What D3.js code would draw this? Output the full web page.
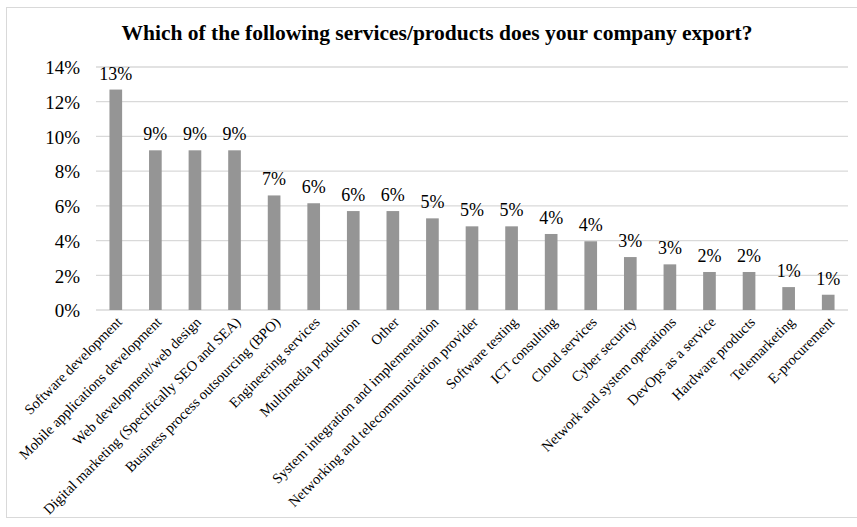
<!DOCTYPE html>
<html>
<head>
<meta charset="utf-8">
<script src="https://cdn.jsdelivr.net/npm/d3@7"></script>
<style>
  body { margin: 0; background: #fff; }
  svg text { font-family: "Liberation Serif", "Times New Roman", serif; fill: #000; }
</style>
</head>
<body>
<div class="chart"></div>
<script>
'use strict';

const categories = [
  "Software development", "Mobile applications development", "Web development/web design",
  "Digital marketing (Specifically SEO and SEA)", "Business process outsourcing (BPO)",
  "Engineering services", "Multimedia production", "Other",
  "System integration and implementation", "Networking and telecommunication provider",
  "Software testing", "ICT consulting", "Cloud services", "Cyber security",
  "Network and system operations", "DevOps as a service", "Hardware products",
  "Telemarketing", "E-procurement"
];
const shares = [
  0.127, 0.092, 0.092, 0.092, 0.066, 0.0615, 0.057, 0.057, 0.0528, 0.0482,
  0.0482, 0.0438, 0.0396, 0.0305, 0.0263, 0.0219, 0.0219, 0.0132, 0.0088
];
const yTicks = [0, 0.02, 0.04, 0.06, 0.08, 0.10, 0.12, 0.14];

(function() {
  const W = 857, H = 527;
  const margin = {top: 67, right: 9, bottom: 217, left: 96};
  const width = W - margin.left - margin.right,
        height = H - margin.top - margin.bottom;
  const serif = 'Liberation Serif, serif';

  const svg = d3.select('.chart').append('svg').attr('width', W).attr('height', H)
    .attr('font-family', serif);

  // outer border
  svg.append('rect').attr('x', 6.5).attr('y', 7.5).attr('width', 870).attr('height', 510)
    .attr('fill', 'none').attr('stroke', '#d9d9d9');

  svg.append('text').attr('x', 437).attr('y', 40).attr('text-anchor', 'middle')
    .style('font-size', '21.5px').style('font-weight', 'bold')
    .text('Which of the following services/products does your company export?');

  const g = svg.append('g').attr('transform', 'translate(' + margin.left + ',' + margin.top + ')');

  const x = d3.scaleBand().domain(categories).range([0, width]).paddingInner(0.68).paddingOuter(0.34);
  const y = d3.scaleLinear().domain([0, 0.14]).range([height, 0]);

  // gridlines
  g.append('g').selectAll('line').data(yTicks).enter().append('line')
    .attr('x1', 0).attr('x2', width)
    .attr('y1', d => y(d)).attr('y2', d => y(d))
    .attr('stroke', '#d9d9d9').attr('stroke-width', 1.3);

  const yAxis = g.append('g').call(d3.axisLeft(y).tickValues(yTicks).tickFormat(d3.format('.0%')).tickSize(0).tickPadding(16));
  yAxis.attr('font-family', serif);
  yAxis.select('.domain').remove();
  yAxis.selectAll('text').style('font-size', '19px').attr('dy', '0.36em');

  g.selectAll('rect.bar').data(shares).enter().append('rect')
    .attr('class', 'bar')
    .attr('x', (d, i) => x(categories[i]))
    .attr('width', x.bandwidth())
    .attr('y', d => y(d))
    .attr('height', d => height - y(d))
    .attr('fill', '#959595');

  g.selectAll('text.val').data(shares).enter().append('text')
    .attr('class', 'val')
    .attr('x', (d, i) => x(categories[i]) + x.bandwidth() / 2)
    .attr('y', d => y(d) - 10)
    .attr('text-anchor', 'middle')
    .style('font-size', '18px')
    .text(d => d3.format('.0%')(d));

  const xAxis = g.append('g').attr('transform', 'translate(0,' + height + ')')
    .call(d3.axisBottom(x).tickSize(0).tickPadding(0));
  xAxis.attr('font-family', serif);
  xAxis.select('.domain').remove();
  xAxis.selectAll('text')
    .style('font-size', '14.5px')
    .attr('text-anchor', 'end')
    .attr('dy', 0)
    .attr('transform', 'translate(7,13) rotate(-45)');
})();
</script>
</body>
</html>
